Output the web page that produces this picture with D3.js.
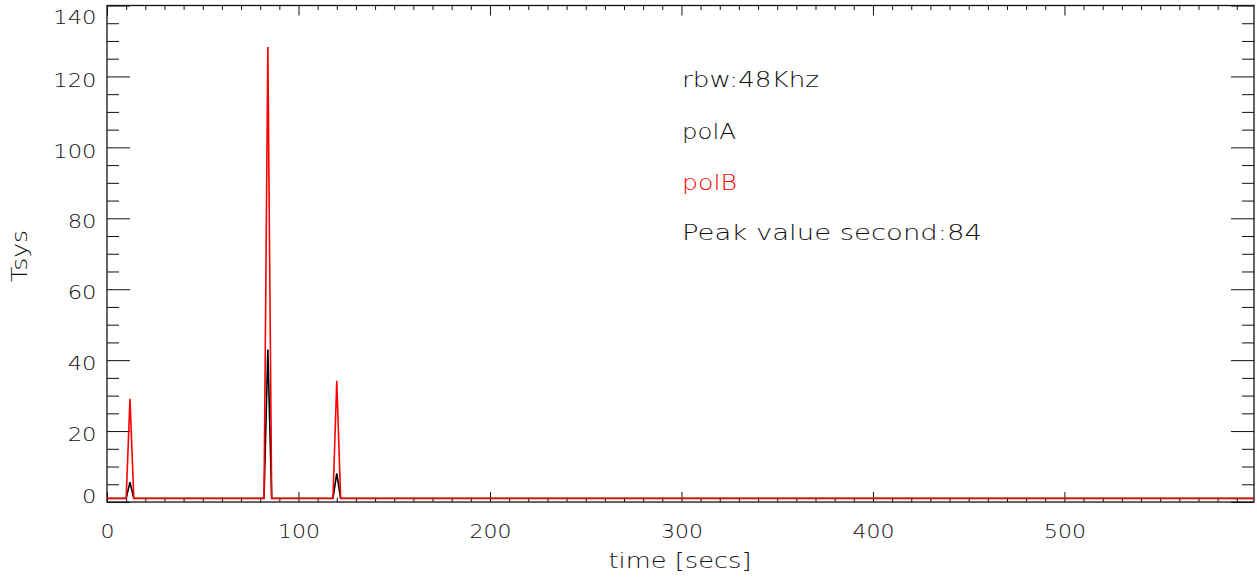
<!DOCTYPE html>
<html>
<head>
<meta charset="utf-8">
<script src="https://cdn.jsdelivr.net/npm/d3@7"></script>
<style>
  html, body { margin: 0; padding: 0; background: #fff; }
  svg { display: block; }
  text { font-family: "DejaVu Sans", sans-serif; font-weight: 200; }
</style>
</head>
<body>
<svg id="chart" width="1257" height="583"></svg>
<script>
// ---- data ----
const times = [0, 10, 12, 14, 82, 84, 86, 118, 120, 122, 599];
const polA  = [1, 1, 5.6, 1, 1, 43, 1, 1, 8.1, 1, 1];
const polB  = [1.05, 1.05, 29.1, 1.05, 1.05, 128.3, 1.05, 1.05, 34.2, 1.05, 1.05];
const xTickLabels = [0, 100, 200, 300, 400, 500];
const yTickLabels = [0, 20, 40, 60, 80, 100, 120, 140];
const annotations = ["rbw:48Khz", "polA", "polB", "Peak value second:84"];

// ---- layout ----
const L = 107, R = 1254, T = 5.5, B = 502;
const svg = d3.select("#chart");
const TXT = "#111";

const x = d3.scaleLinear().domain([0, 599]).range([L, R]);
const y = d3.scaleLinear().domain([0, 140]).range([B, T]);

const xMinor = d3.range(0, 600, 10).filter(v => v % 100 !== 0);
const yMinor = d3.range(0, 141, 5).filter(v => v % 20 !== 0);

function styleAxis(g) {
  g.select(".domain").remove();
  g.selectAll(".tick line").attr("stroke", "#111").attr("stroke-width", 1);
}

// minor ticks
svg.append("g").attr("transform", `translate(0,${B})`)
  .call(d3.axisBottom(x).tickValues(xMinor).tickSize(-4.5).tickFormat("")).call(styleAxis);
svg.append("g").attr("transform", `translate(0,${T})`)
  .call(d3.axisTop(x).tickValues(xMinor).tickSize(-4.5).tickFormat("")).call(styleAxis);
svg.append("g").attr("transform", `translate(${L},0)`)
  .call(d3.axisLeft(y).tickValues(yMinor).tickSize(-12).tickFormat("")).call(styleAxis);
svg.append("g").attr("transform", `translate(${R},0)`)
  .call(d3.axisRight(y).tickValues(yMinor).tickSize(-12).tickFormat("")).call(styleAxis);

// major ticks + labels
const gx = svg.append("g").attr("transform", `translate(0,${B})`)
  .call(d3.axisBottom(x).tickValues(xTickLabels).tickSize(-10).tickFormat(d3.format("d")));
gx.call(styleAxis);
gx.selectAll(".tick text").attr("font-size", 20).attr("fill", TXT)
  .attr("y", 29).attr("dy", "0.36em")
  .attr("textLength", d => String(d).length * 14).attr("lengthAdjust", "spacingAndGlyphs");
svg.append("g").attr("transform", `translate(0,${T})`)
  .call(d3.axisTop(x).tickValues(xTickLabels).tickSize(-10).tickFormat("")).call(styleAxis);

const gy = svg.append("g").attr("transform", `translate(${L},0)`)
  .call(d3.axisLeft(y).tickValues(yTickLabels).tickSize(-23).tickFormat(d3.format("d")));
gy.call(styleAxis);
gy.selectAll(".tick text").attr("font-size", 20).attr("fill", TXT)
  .attr("x", -10.5)
  .attr("y", d => { const p = y(d) + 2.5; return Math.min(Math.max(p, 16), 495.5) - y(d); })
  .attr("dy", "0.36em")
  .attr("textLength", d => String(d).length * 14.4).attr("lengthAdjust", "spacingAndGlyphs");
svg.append("g").attr("transform", `translate(${R},0)`)
  .call(d3.axisRight(y).tickValues(yTickLabels).tickSize(-23).tickFormat("")).call(styleAxis);

// frame
svg.append("rect").attr("x", L).attr("y", T).attr("width", R - L).attr("height", B - T)
  .attr("fill", "none").attr("stroke", "#111").attr("stroke-width", 1.3);

// data lines
const line = vals => d3.line().x((d, i) => x(times[i])).y(d => y(d))(vals);
svg.append("path").attr("d", line(polA)).attr("fill", "none")
  .attr("stroke", "#000").attr("stroke-width", 1.6);
svg.append("path").attr("d", line(polB)).attr("fill", "none")
  .attr("stroke", "#ff0000").attr("stroke-width", 1.6);

// annotations
const annY = [86.5, 138.5, 190, 240];
const annW = [137, 54, 55, 300];
const annC = [TXT, TXT, "#ff0000", TXT];
annotations.forEach((t, i) => {
  svg.append("text").attr("x", 682).attr("y", annY[i])
    .attr("font-size", 21).attr("fill", annC[i])
    .attr("textLength", annW[i]).attr("lengthAdjust", "spacingAndGlyphs")
    .text(t);
});

// axis titles
svg.append("text").attr("x", 680).attr("y", 568).attr("text-anchor", "middle")
  .attr("font-size", 21).attr("fill", TXT)
  .attr("textLength", 143).attr("lengthAdjust", "spacingAndGlyphs")
  .text("time [secs]");
svg.append("text").attr("transform", "translate(27,256) rotate(-90)")
  .attr("text-anchor", "middle").attr("font-size", 21).attr("fill", TXT)
  .attr("textLength", 52).attr("lengthAdjust", "spacingAndGlyphs")
  .text("Tsys");
</script>
</body>
</html>
